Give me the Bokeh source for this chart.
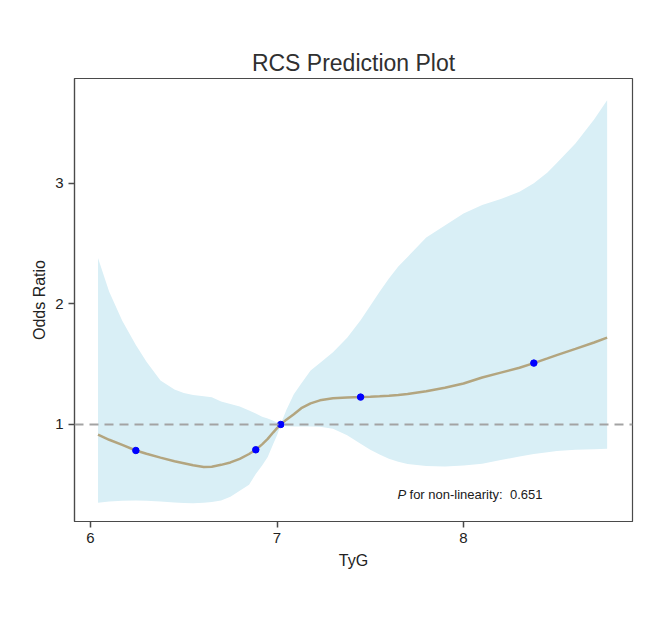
from bokeh.plotting import figure
from bokeh.models import ColumnDataSource, Span, FixedTicker, Range1d
from bokeh.core.properties import value
from bokeh.embed import file_html
from bokeh.resources import INLINE

# ---- data ----
tyg = [6.04, 6.1, 6.17, 6.243, 6.3, 6.375, 6.45, 6.5, 6.55, 6.607, 6.65, 6.7, 6.75,
       6.8, 6.85, 6.886, 6.92, 6.95, 6.98, 7.0, 7.02, 7.05, 7.09, 7.13, 7.18, 7.23,
       7.3, 7.376, 7.448, 7.5, 7.55, 7.6, 7.65, 7.7, 7.8, 7.9, 8.0, 8.1, 8.2, 8.3,
       8.377, 8.45, 8.5, 8.6, 8.7, 8.77]
odds_ratio = [0.915, 0.873, 0.83, 0.784, 0.757, 0.725, 0.695, 0.679, 0.662, 0.648, 0.65,
              0.665, 0.685, 0.715, 0.755, 0.79, 0.835, 0.88, 0.935, 0.97, 1.0, 1.04,
              1.085, 1.135, 1.175, 1.2, 1.217, 1.224, 1.227, 1.23, 1.234, 1.239, 1.245,
              1.252, 1.275, 1.305, 1.34, 1.39, 1.43, 1.47, 1.509, 1.548, 1.575, 1.627,
              1.68, 1.72]
upper_ci = [2.38, 2.10, 1.86, 1.66, 1.52, 1.365, 1.29, 1.26, 1.245, 1.235, 1.225, 1.19,
            1.17, 1.15, 1.115, 1.09, 1.065, 1.05, 1.03, 1.015, 1.003, 1.12, 1.25, 1.34,
            1.448, 1.51, 1.60, 1.72, 1.865, 1.985, 2.10, 2.21, 2.31, 2.39, 2.55, 2.65,
            2.75, 2.82, 2.87, 2.93, 3.00, 3.09, 3.17, 3.33, 3.53, 3.69]
lower_ci = [0.35, 0.36, 0.368, 0.37, 0.368, 0.36, 0.352, 0.348, 0.347, 0.35, 0.357, 0.37,
            0.40, 0.45, 0.50, 0.59, 0.66, 0.73, 0.84, 0.91, 0.995, 0.985, 0.983, 0.983,
            0.983, 0.98, 0.965, 0.91, 0.84, 0.79, 0.75, 0.715, 0.69, 0.672, 0.655, 0.652,
            0.66, 0.675, 0.705, 0.735, 0.755, 0.77, 0.78, 0.79, 0.795, 0.798]
knot_x = [6.243, 6.886, 7.02, 7.448, 8.377]
knot_or = [0.784, 0.79, 1.0, 1.227, 1.509]
x_ticks = [6, 7, 8]
y_ticks = [1, 2, 3]
p_text = "0.651"

FONT = "Liberation Sans"

src = ColumnDataSource(dict(x=tyg, y=odds_ratio, lo=lower_ci, hi=upper_ci))
ksrc = ColumnDataSource(dict(x=knot_x, y=knot_or))

p = figure(width=661, height=630, output_backend="svg", toolbar_location=None,
           x_range=Range1d(5.914, 8.906), y_range=Range1d(0.195, 3.87),
           frame_width=558, frame_height=443,
           min_border_left=74, min_border_top=78, min_border_right=29, min_border_bottom=100,
           title="RCS Prediction Plot")

p.title.text_font = FONT
p.title.text_font_size = "23px"
p.title.text_font_style = "normal"
p.title.text_color = "#303030"
p.title.align = "center"
p.title.standoff = 6

p.varea(x="x", y1="lo", y2="hi", source=src, fill_color="#d9eff6", fill_alpha=1.0)
p.add_layout(Span(location=1, dimension="width", line_color="#a3a3a3",
                  line_width=2, line_dash="9 6"))
p.line(x="x", y="y", source=src, line_color="#b3a57f", line_width=2.5)
p.scatter(x="x", y="y", source=ksrc, size=6.5, fill_color="#0000ff", line_color="#0000ff")

p.text(x=[7.646], y=[0.419], text=["P"], text_font=value(FONT), text_font_size="13px",
       text_font_style="italic", text_baseline="middle", text_align="left", text_color="#202020")
p.text(x=[7.646], y=[0.419], text=["for non-linearity:\u00a0 " + p_text], x_offset=12,
       text_font=value(FONT), text_font_size="13px", text_baseline="middle",
       text_align="left", text_color="#202020")

p.xgrid.visible = False
p.ygrid.visible = False
p.outline_line_color = "#4a4a4a"
p.outline_line_width = 1.2

for ax in (p.xaxis, p.yaxis):
    ax.axis_line_color = "#4a4a4a"
    ax.axis_line_width = 1.2
    ax.major_tick_line_color = "#4a4a4a"
    ax.major_tick_line_width = 1.5
    ax.major_tick_out = 6
    ax.major_tick_in = 0
    ax.minor_tick_line_color = None
    ax.major_label_text_font = FONT
    ax.major_label_text_font_size = "15px"
    ax.major_label_text_color = "#222222"
    ax.axis_label_text_font = FONT
    ax.axis_label_text_font_size = "16px"
    ax.axis_label_text_font_style = "normal"
    ax.axis_label_text_color = "#222222"

p.xaxis.ticker = FixedTicker(ticks=x_ticks)
p.yaxis.ticker = FixedTicker(ticks=y_ticks)
p.xaxis.axis_label = "TyG"
p.yaxis.axis_label = "Odds Ratio"
p.xaxis.major_label_standoff = 5
p.yaxis.major_label_standoff = 5
p.xaxis.axis_label_standoff = 6
p.yaxis.axis_label_standoff = 4

open("out.html", "w").write(file_html(p, INLINE))
